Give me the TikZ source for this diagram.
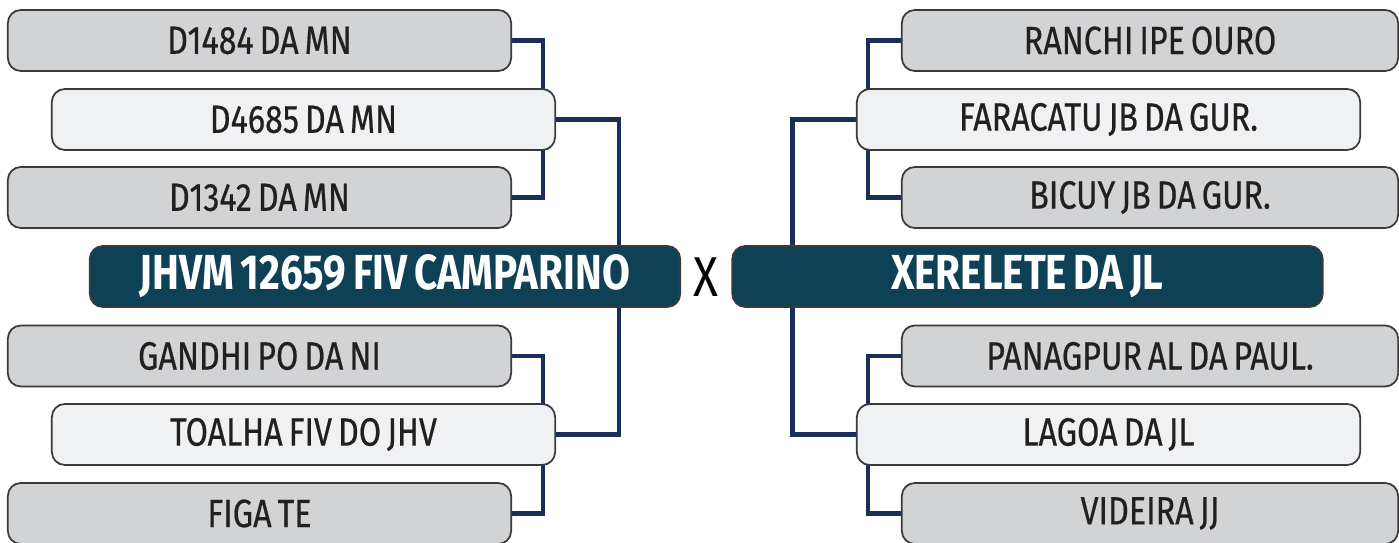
\documentclass[tikz,border=0pt]{standalone}
\usepackage{fontspec}
\setmainfont[FakeStretch=0.82, WordSpace=0.7]{Fira Sans}
\newfontfamily\namefont[FakeStretch=0.82, WordSpace=0.7, FakeBold=0.5]{Fira Sans}
\usetikzlibrary{backgrounds}
\definecolor{boxgray}{HTML}{D1D3D4}
\definecolor{boxlight}{HTML}{F0F1F3}
\definecolor{boxdark}{HTML}{0E4156}
\definecolor{boxline}{HTML}{3A3A3C}
\definecolor{linknavy}{HTML}{1A2E57}
\definecolor{ink}{HTML}{231F20}
\tikzstyle{grandbox} = [rectangle, rounded corners=0.13cm, minimum width=5.03cm, minimum height=0.61cm, inner sep=0pt, text centered, draw=boxline, line width=0.5pt, fill=boxgray, text=ink, font=\namefont\fontsize{11.2}{12}\selectfont]
\tikzstyle{parentbox} = [grandbox, fill=boxlight]
\tikzstyle{mainbox} = [grandbox, minimum width=5.9cm, fill=boxdark, text=white, font=\normalfont\bfseries\fontsize{14}{15}\selectfont]
\tikzstyle{link} = [line width=1.15pt, draw=linknavy]

\begin{document}
\begin{tikzpicture}[x=0.01cm, y=-0.01cm]
			\useasboundingbox (0,0) rectangle (1399,543);
			\node[grandbox] (1) at (259.5,40.5) {D1484 DA MN};
			\node[parentbox] (2) at (303.5,119.5) {D4685 DA MN};
			\node[grandbox] (3) at (259.5,197.5) {D1342 DA MN};
			\node[mainbox] (4) at (385,276.5) {JHVM 12659 FIV CAMPARINO};
			\node[grandbox] (5) at (259.5,356) {GANDHI PO DA NI};
			\node[parentbox] (6) at (303.5,434.5) {TOALHA FIV DO JHV};
			\node[grandbox] (7) at (259.5,513.5) {FIGA TE};
			
			\node[text=black, font=\fontsize{16}{17}\selectfont] (x) at (706,277.5) {X};
			
			\node[grandbox, minimum width=4.96cm] (8) at (1150,40.5) {RANCHI IPE OURO};
			\node[parentbox] (9) at (1108.5,119.5) {FARACATU JB DA GUR.};
			\node[grandbox, minimum width=4.96cm] (10) at (1150,197.5) {BICUY JB DA GUR.};
			\node[mainbox] (11) at (1027.5,276.5) {XERELETE DA JL};
			\node[grandbox, minimum width=4.96cm] (12) at (1150,356) {PANAGPUR AL DA PAUL.};
			\node[parentbox] (13) at (1108.5,434.5) {LAGOA DA JL};
			\node[grandbox, minimum width=4.96cm] (14) at (1150,513.5) {VIDEIRA JJ};
			
			\coordinate (4a) at ([xshift=-0.62cm]4.east);
			\coordinate (11a) at ([xshift=0.61cm]11.west);
			
			\begin{scope}[on background layer]
			\draw [link] (1.east) -- ++(31,0) |- (3.east);
			\draw [link] (5.east) -- ++(31,0) |- (7.east);
			\draw [link] (2.east) -| (4a) |- (6.east);
			\draw [link] (8.west) -- ++(-33,0) |- (10.west);
			\draw [link] (12.west) -- ++(-33,0) |- (14.west);
			\draw [link] (9.west) -| (11a) |- (13.west);
			\end{scope}
			
		\end{tikzpicture}
\end{document}
